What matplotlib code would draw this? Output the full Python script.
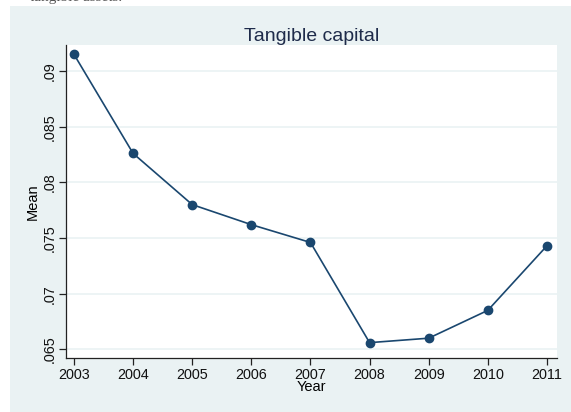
import matplotlib.pyplot as plt
from matplotlib.patches import Rectangle

years = [2003, 2004, 2005, 2006, 2007, 2008, 2009, 2010, 2011]
mean_tangible = [0.0915, 0.0826, 0.0780, 0.0762, 0.0746, 0.0656, 0.0660, 0.0685, 0.0743]
y_ticks = [0.065, 0.07, 0.075, 0.08, 0.085, 0.09]
y_ticklabels = ['.065', '.07', '.075', '.08', '.085', '.09']

bg = '#EAF2F3'
navy = '#1A476F'

plt.rcParams['font.family'] = ['Liberation Sans', 'DejaVu Sans']

fig = plt.figure(figsize=(5.71, 4.12), dpi=100)
fig.patch.set_facecolor('white')
# stata style outer panel
fig.patches.append(Rectangle((10 / 571, 0), 561 / 571, 406 / 412,
                             transform=fig.transFigure, facecolor=bg,
                             edgecolor='none', zorder=-10))
# cut off document text above the chart
fig.text(30 / 571, 1 - 0.5 / 412, 'tangible assets.', family='Liberation Serif',
         fontsize=11, color='#555555', va='baseline', ha='left')

ax = fig.add_axes([66 / 571, 54 / 412, 491 / 571, 313 / 412])
ax.set_facecolor('white')
ax.plot(years, mean_tangible, color=navy, lw=1.2, marker='o',
        markersize=6, markerfacecolor=navy, markeredgecolor=navy, zorder=3)

ax.set_xlim(2002.865, 2011.17)
ax.set_ylim(0.06422, 0.09234)
ax.set_xticks(years)
ax.set_xticklabels([str(y) for y in years])
ax.set_yticks(y_ticks)
ax.set_yticklabels(y_ticklabels, rotation=90, va='center')
ax.tick_params(axis='both', labelsize=10.4, length=5, width=0.9, color='#222222',
               labelcolor='#111111', pad=2)
ax.grid(axis='y', color=bg, lw=1.2, zorder=1)
for s in ['top', 'right']:
    ax.spines[s].set_visible(False)
for s in ['left', 'bottom']:
    ax.spines[s].set_color('#222222')
    ax.spines[s].set_linewidth(0.9)

ax.set_xlabel('Year', fontsize=10.5, labelpad=-1)
ax.set_ylabel('Mean', fontsize=10.5, labelpad=2)
ax.set_title('Tangible capital', fontsize=14, color='#1E2B4A', pad=2)

fig.savefig('out.png', dpi=100, facecolor=fig.get_facecolor())
